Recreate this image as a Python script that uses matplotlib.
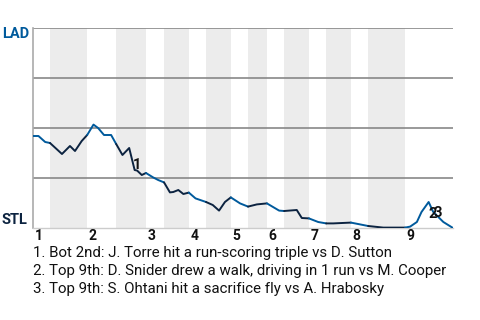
import numpy as np
import matplotlib
matplotlib.use("Agg")
import matplotlib.pyplot as plt

plt.rcParams['font.family'] = ['Roboto', 'DejaVu Sans']

# game progress (0-100) and LAD win probability
progress = [0, 1.3, 2.9, 4.05, 6.9, 8.8, 10.0, 11.6, 12.9, 14.4, 15.5, 16.9, 18.6,
            19.8, 21.3, 22.9, 24.2, 24.8, 25.9, 26.9, 28.6, 29.8, 31.2, 32.6, 33.4,
            34.6, 35.8, 37.1, 38.7, 41.2, 42.8, 44.3, 45.7, 47.1, 49.3, 51.2, 53.3,
            55.7, 58.6, 59.8, 62.8, 64.0, 65.7, 67.9, 69.8, 71.5, 75.7, 79.8, 83.4,
            88.6, 89.8, 91.4, 92.5, 94.2, 95.3, 97.7, 100]
lad_wp = [0.46, 0.46, 0.43, 0.425, 0.37, 0.41, 0.385, 0.435, 0.465, 0.517, 0.50,
          0.465, 0.465, 0.42, 0.365, 0.40, 0.29, 0.287, 0.265, 0.275, 0.253, 0.24,
          0.228, 0.178, 0.18, 0.19, 0.17, 0.177, 0.148, 0.13, 0.115, 0.087, 0.13,
          0.153, 0.123, 0.107, 0.118, 0.123, 0.087, 0.085, 0.09, 0.05, 0.048, 0.03,
          0.023, 0.023, 0.027, 0.01, 0.002, 0.002, 0.007, 0.03, 0.08, 0.13, 0.08,
          0.03, 0.0]

# start of each half inning (top 1st, bot 1st, top 2nd, ...), last value = end
half_starts = [0, 4.05, 12.9, 19.8, 26.9, 31.2, 37.1, 41.2, 47.1, 51.2, 55.7,
               59.8, 65.7, 69.8, 75.7, 79.8, 88.6, 100]
innings = ['1', '2', '3', '4', '5', '6', '7', '8', '9']

notes = ["1. Bot 2nd: J. Torre hit a run-scoring triple vs D. Sutton",
         "2. Top 9th: D. Snider drew a walk, driving in 1 run vs M. Cooper",
         "3. Top 9th: S. Ohtani hit a sacrifice fly vs A. Hrabosky"]
note_pos = [(24.8, 0.315), (95.1, 0.07), (96.3, 0.075)]

LAD_BLUE = '#005A9C'
STL_NAVY = '#0C2340'

fig = plt.figure(figsize=(4.8, 3.2), dpi=100)
ax = fig.add_axes([33 / 480, 92 / 320, 420 / 480, 200 / 320])

x = np.array(progress)
y = np.array(lad_wp)

for i in range(len(half_starts) - 1):
    a, b = half_starts[i], half_starts[i + 1]
    if i % 2 == 1:
        ax.axvspan(a, b, color='#ececec', lw=0, zorder=0)
    mask = (x > a) & (x < b)
    xs = np.concatenate([[a], x[mask], [b]])
    ys = np.interp(xs, x, y)
    ax.plot(xs, ys, color=LAD_BLUE if i % 2 == 0 else STL_NAVY, lw=1.4,
            zorder=3, solid_capstyle='round')

for g in [0.25, 0.5, 0.75, 1.0]:
    ax.axhline(g, color='#888888', lw=1.2, zorder=1)

ax.set_xlim(0, 100)
ax.set_ylim(0, 1)
ax.set_xticks([])
ax.set_yticks([])
for s in ['top', 'right']:
    ax.spines[s].set_visible(False)
ax.spines['left'].set_color('#aaaaaa')
ax.spines['left'].set_linewidth(1.2)
ax.spines['bottom'].set_color('#cccccc')
ax.spines['bottom'].set_linewidth(1.0)

trans = ax.get_xaxis_transform()
for k, lab in enumerate(innings):
    ax.annotate(lab, xy=(half_starts[2 * k], -0.04), xycoords=trans,
                xytext=(1, 0), textcoords='offset points',
                ha='left', va='center', fontsize=10, fontweight='bold',
                color='#111111', annotation_clip=False)

fig.text(2 / 480, 1 - 34 / 320, 'LAD', color=LAD_BLUE, fontsize=10.5,
         fontweight='bold', va='center', ha='left')
fig.text(2 / 480, 1 - 220 / 320, 'STL', color=STL_NAVY, fontsize=10.5,
         fontweight='bold', va='center', ha='left')

for k, (px, py) in enumerate(note_pos):
    ax.text(px, py, str(k + 1), fontsize=10.5, fontweight='bold', color='#111111',
            ha='center', va='center', zorder=4)

for k, line in enumerate(notes):
    fig.text(33 / 480, 1 - (253 + 18 * k) / 320, line, fontsize=10.8,
             color='#111111', va='center', ha='left')

fig.savefig('out.png', dpi=100)
